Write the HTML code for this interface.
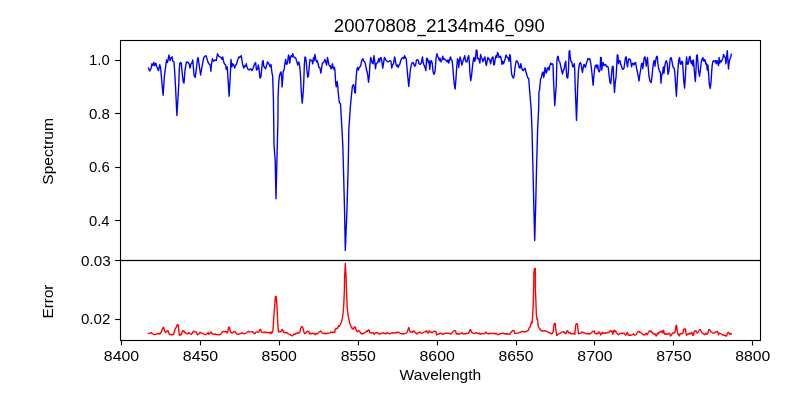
<!DOCTYPE html>
<html><head><meta charset="utf-8"><title>20070808_2134m46_090</title>
<style>
html,body{margin:0;padding:0;background:#fff;}
svg{display:block;will-change:transform;}
text{font-family:"Liberation Sans",sans-serif;fill:#000;}
</style></head><body>
<svg width="800" height="400" viewBox="0 0 800 400">
<rect x="0" y="0" width="800" height="400" fill="#fff"/>
<clipPath id="c1"><rect x="120.5" y="40.5" width="640" height="220"/></clipPath>
<clipPath id="c2"><rect x="120.5" y="260.5" width="640" height="80"/></clipPath>
<polyline clip-path="url(#c1)" fill="none" stroke="#0000ff" stroke-width="1.39" stroke-linejoin="round" stroke-linecap="square" points="148.50,68.12 149.75,71.00 151.00,68.75 151.88,63.75 152.88,65.62 153.75,62.50 154.75,65.62 155.75,63.12 156.62,66.25 157.50,68.12 158.50,70.62 159.75,64.75 160.62,68.12 161.88,82.50 163.12,95.25 164.38,76.25 165.62,66.88 166.50,60.00 167.50,62.50 169.00,55.00 170.00,60.62 171.25,57.50 172.25,56.88 172.75,61.25 174.00,61.88 174.88,75.00 175.50,86.25 176.88,115.38 178.75,85.00 179.25,70.00 179.75,63.75 180.62,62.50 181.25,63.12 181.88,70.00 183.12,81.25 184.00,83.12 185.00,70.00 186.50,61.88 188.12,62.50 189.38,64.38 190.00,68.12 191.00,63.75 191.88,63.12 192.75,60.00 193.50,68.75 194.12,75.62 195.25,77.50 196.25,70.00 197.50,58.75 198.12,57.50 199.00,63.75 200.62,75.00 201.88,67.50 203.75,57.50 205.00,56.25 206.00,55.62 206.88,58.12 208.12,62.50 209.38,64.38 210.25,65.00 210.88,71.25 211.50,63.75 212.50,58.75 213.75,61.25 215.00,60.00 216.25,60.62 217.50,53.75 218.75,56.25 220.00,56.88 221.25,57.50 221.88,59.38 222.75,56.88 223.50,61.25 224.38,63.75 225.62,65.00 226.25,69.38 227.25,66.88 227.88,76.25 229.12,96.25 230.25,76.25 231.00,59.38 231.88,66.88 232.75,63.75 234.00,65.62 234.75,68.12 235.62,65.00 236.50,64.38 237.50,60.62 238.75,56.88 239.50,57.50 240.25,56.88 241.25,55.62 241.88,60.00 242.75,65.00 243.75,68.12 244.75,65.62 245.62,66.25 246.25,63.75 247.12,67.50 248.12,69.38 249.00,70.00 250.00,69.38 250.88,68.75 251.88,70.62 252.88,68.75 253.75,66.25 254.75,63.75 255.62,62.50 256.50,70.00 257.50,69.38 258.25,65.00 259.00,68.75 260.00,78.12 260.88,76.88 261.62,70.00 262.50,61.25 263.12,60.62 263.75,66.25 264.75,67.50 265.62,68.75 266.50,65.62 267.50,61.88 268.50,63.12 269.38,65.00 270.25,66.88 271.00,64.38 271.62,70.00 272.12,73.75 272.56,75.00 273.00,86.25 273.44,100.00 273.70,120.00 274.00,145.00 275.19,160.00 276.00,198.75 276.94,160.00 277.94,120.00 278.12,95.00 278.75,82.50 279.38,76.25 280.25,73.12 281.00,71.88 281.62,77.50 282.12,86.88 282.62,80.00 283.12,71.88 284.00,70.00 284.75,65.00 285.62,59.38 286.25,63.75 286.88,64.38 287.50,62.50 288.50,55.00 289.25,57.50 289.75,63.12 290.38,57.50 291.25,55.62 292.00,56.88 292.75,53.75 293.38,56.25 294.38,57.50 295.25,57.50 296.00,58.75 296.88,61.88 297.75,65.00 298.75,61.88 299.38,64.38 300.00,68.75 300.62,77.50 301.25,91.25 302.25,103.12 303.25,91.25 303.75,82.50 304.38,63.75 305.00,56.88 305.62,57.50 306.25,61.88 306.88,70.00 307.75,77.25 308.50,75.62 309.12,67.50 310.00,59.38 310.88,60.00 311.88,60.62 312.75,63.75 313.50,57.50 314.12,60.62 315.00,54.38 315.62,58.75 316.50,61.88 317.25,60.62 318.12,63.75 319.00,67.50 320.00,68.12 320.88,73.12 321.50,68.75 322.25,63.75 323.12,62.50 324.00,61.88 325.00,59.38 325.88,62.50 326.62,65.00 327.50,57.50 328.12,60.62 329.00,65.00 329.75,66.25 330.38,65.62 331.00,68.75 331.62,68.12 332.50,63.75 333.25,68.12 334.00,69.38 334.50,67.25 335.00,71.25 335.62,82.50 336.25,86.88 337.12,81.50 337.88,86.88 338.00,90.00 338.00,90.00 339.00,100.00 339.50,103.00 340.50,103.50 342.00,130.00 342.80,145.00 343.50,170.00 344.60,212.00 345.30,250.50 346.90,212.00 348.10,170.00 348.60,145.00 348.80,130.00 350.50,105.00 352.00,90.00 352.50,85.62 353.38,84.75 354.00,85.62 354.75,92.50 355.38,93.12 355.62,86.25 356.25,76.25 356.88,69.38 357.75,67.50 358.50,70.00 359.12,67.50 360.00,66.88 360.75,65.62 361.50,61.25 362.25,59.38 362.88,58.75 363.75,61.25 364.75,61.88 365.62,65.00 366.25,68.75 367.25,72.50 367.88,76.25 368.50,82.25 369.25,76.25 370.00,63.75 370.75,57.50 371.50,60.00 372.25,63.12 373.12,63.75 374.00,55.62 374.75,61.25 375.50,68.75 376.25,63.75 377.00,63.12 377.75,62.50 378.75,58.75 379.50,61.88 380.25,58.12 381.00,57.50 381.88,61.25 382.75,68.12 383.50,63.75 384.38,57.50 385.25,58.75 386.25,60.62 387.25,61.25 388.12,61.88 389.00,61.25 390.00,60.62 391.00,61.25 391.75,68.12 392.50,65.00 393.50,63.75 394.62,56.88 395.25,60.00 396.00,64.38 396.88,66.25 397.50,65.00 398.25,67.50 399.00,65.00 399.75,64.38 400.62,61.25 401.50,58.75 402.25,58.12 403.12,57.50 403.75,58.75 404.62,55.62 405.38,57.50 406.25,58.75 406.88,66.25 407.75,76.25 408.75,86.50 409.62,77.50 410.38,70.00 411.25,65.00 412.00,63.12 412.88,62.50 413.75,63.75 414.62,66.25 415.62,65.00 416.50,60.00 417.50,59.75 418.38,60.62 419.00,63.75 420.00,64.38 421.00,63.75 421.62,61.25 422.50,56.88 423.12,62.50 424.00,65.00 425.00,67.50 425.88,70.62 426.62,58.12 427.50,58.75 428.25,62.50 429.00,60.62 429.75,69.38 430.62,61.25 431.50,60.62 432.25,63.75 433.12,71.88 434.12,74.38 435.00,71.25 436.00,58.75 436.88,53.75 437.88,56.88 438.50,57.50 439.38,60.62 440.00,58.12 440.88,61.88 441.88,60.00 442.75,56.25 443.50,59.38 444.38,58.75 445.25,60.00 446.25,60.62 447.12,61.88 447.88,60.00 448.75,63.12 449.62,59.38 450.62,56.88 451.25,60.00 452.12,60.62 452.75,66.25 453.50,76.25 454.38,85.00 455.12,89.00 455.88,80.00 456.62,68.75 457.50,58.75 458.25,60.00 458.75,67.50 459.38,61.25 460.12,56.88 461.00,60.62 461.88,65.00 462.75,61.88 463.75,58.75 464.75,55.62 465.38,60.00 466.00,61.88 467.00,61.88 467.88,57.50 468.75,55.62 469.38,62.50 470.00,73.75 470.75,80.62 471.50,76.25 472.25,68.75 473.12,61.25 474.00,57.50 474.75,61.25 475.50,58.75 476.25,50.00 477.00,50.62 477.50,58.75 478.38,58.12 479.12,60.00 479.88,63.12 480.62,54.38 481.38,57.50 482.12,58.75 482.88,61.88 483.50,60.00 484.25,58.12 484.88,56.88 485.62,62.50 486.38,65.62 487.12,61.25 487.88,57.50 488.75,58.75 489.75,60.00 490.62,63.75 491.38,60.00 492.25,57.50 493.00,56.88 493.75,65.00 494.50,64.38 495.25,58.75 496.00,55.62 496.75,57.50 497.50,52.50 498.25,53.75 499.00,57.50 499.75,56.88 500.50,56.25 501.25,58.75 501.88,64.38 502.75,61.25 503.50,63.75 504.38,61.25 505.12,58.75 506.00,55.00 506.75,56.88 507.50,57.50 508.25,58.12 509.00,61.25 509.75,54.38 510.38,56.25 511.00,66.25 511.62,73.75 512.50,76.88 513.50,78.12 514.25,75.00 515.00,67.50 515.88,62.50 516.62,60.62 517.50,61.88 518.38,63.75 519.12,67.50 520.00,68.12 520.88,63.75 521.62,67.50 522.50,70.00 523.25,70.62 524.00,69.38 525.00,68.12 525.75,71.25 526.50,73.75 527.25,76.25 528.00,78.12 528.75,78.75 529.20,85.00 530.20,97.50 531.20,110.00 532.00,130.00 533.00,170.00 533.80,205.00 534.70,240.40 535.70,205.00 536.50,170.00 537.60,130.00 538.60,110.00 539.00,91.30 539.50,90.50 540.00,85.00 540.62,78.75 541.25,78.12 541.88,75.00 542.50,72.50 543.12,71.88 543.75,77.50 544.38,73.75 545.00,67.50 545.62,69.38 546.25,73.12 546.88,71.25 547.50,68.12 548.25,67.50 549.00,70.00 549.75,66.25 550.62,63.12 551.50,64.38 552.25,63.75 553.00,64.38 553.38,76.25 553.75,85.00 554.75,105.62 556.25,85.00 556.88,61.25 557.50,56.88 558.12,56.25 558.75,60.62 559.75,61.88 560.62,65.62 561.50,70.00 562.50,74.00 563.38,70.00 564.12,69.38 565.00,63.75 565.75,61.25 566.25,70.00 566.88,77.50 567.75,78.12 568.50,70.00 569.12,51.25 569.75,50.62 570.25,57.50 571.00,61.25 571.88,62.50 572.75,66.88 573.50,66.25 574.25,63.75 574.75,70.00 575.12,85.00 576.50,120.38 577.75,85.00 578.50,70.00 579.38,64.38 580.25,62.50 581.00,63.75 581.75,68.75 582.50,72.50 583.25,67.50 584.00,64.38 584.75,66.25 585.38,67.50 586.25,63.75 587.12,61.25 587.88,58.50 588.75,59.38 589.75,58.75 590.62,62.50 591.50,68.75 592.25,76.25 593.12,85.25 593.75,77.50 594.50,70.00 595.25,65.62 596.25,65.00 597.00,68.12 597.75,65.00 598.50,70.62 599.25,71.88 600.00,70.00 600.62,57.50 601.25,57.50 601.75,70.00 602.50,63.75 603.25,62.50 604.00,65.62 604.75,65.00 605.62,64.38 606.50,66.88 607.50,66.25 608.25,67.50 609.00,75.00 610.00,82.50 610.75,83.75 611.50,75.00 612.25,66.88 613.12,66.25 613.75,80.00 614.50,92.50 615.25,82.50 616.00,77.50 616.50,70.00 617.25,55.00 617.88,55.00 618.50,63.75 619.25,60.62 620.00,60.62 620.75,64.38 621.50,66.25 622.25,68.75 623.12,69.38 624.00,68.12 624.75,62.50 625.50,57.50 626.25,56.88 626.88,63.12 627.50,66.88 628.25,61.25 629.00,58.75 630.00,59.38 630.75,61.25 631.50,66.88 632.25,63.75 633.12,63.12 634.00,65.00 634.75,63.12 635.62,62.50 636.50,68.12 637.25,71.25 638.12,75.62 639.00,81.00 639.75,75.00 640.62,70.00 641.50,63.75 642.25,63.12 642.75,68.75 643.50,63.75 644.25,57.50 645.00,56.88 645.75,61.25 646.25,66.25 646.88,61.25 647.50,57.50 648.12,66.25 649.00,76.25 650.00,81.25 651.25,82.50 652.12,75.00 652.88,67.50 653.75,61.25 654.50,60.62 655.00,66.25 655.75,60.00 656.50,56.88 657.25,56.25 657.88,63.75 658.75,68.75 659.62,71.88 660.38,71.88 661.00,83.12 661.62,75.62 662.50,73.75 663.38,66.88 664.00,73.12 664.75,66.25 665.62,61.88 666.50,60.62 667.25,63.75 668.00,74.38 668.75,71.88 669.50,65.62 670.25,58.75 671.00,57.50 671.75,60.00 672.50,64.38 673.25,67.50 674.12,68.12 674.75,71.88 675.50,82.50 676.38,96.25 677.12,82.50 677.88,70.00 678.75,60.00 679.62,57.50 680.25,63.75 681.00,64.38 681.75,61.25 682.50,61.88 683.12,70.00 683.75,81.25 684.62,88.12 685.38,76.25 686.00,63.75 686.62,56.88 687.25,63.75 688.00,64.38 688.75,61.25 689.38,56.88 690.00,56.25 690.62,61.25 691.50,63.75 692.25,60.62 692.75,65.62 693.50,60.00 694.12,67.50 694.75,76.25 695.38,81.50 696.00,70.00 696.62,55.62 697.25,55.00 697.88,61.25 698.50,70.00 699.50,76.25 700.38,70.00 701.25,62.50 702.12,58.75 702.88,57.50 703.50,60.62 704.12,61.25 704.75,59.38 705.38,61.25 706.00,64.38 706.62,63.75 707.25,70.00 707.88,65.00 708.50,72.50 709.25,83.75 710.25,88.38 711.00,82.50 711.62,72.50 712.25,65.00 712.88,61.25 713.75,60.62 714.75,61.88 715.62,60.62 716.25,63.75 717.00,60.62 717.75,62.50 718.50,65.62 719.12,57.50 719.75,63.12 720.50,60.62 721.25,61.88 722.00,60.00 722.75,58.75 723.50,54.38 724.38,56.25 725.25,57.50 725.88,63.75 726.50,58.75 727.25,50.62 727.75,57.50 728.50,69.00 729.12,62.50 730.00,58.75 730.62,57.50 731.25,54.38"/>
<polyline clip-path="url(#c2)" fill="none" stroke="#ff0000" stroke-width="1.39" stroke-linejoin="round" stroke-linecap="square" points="148.50,333.50 150.00,333.12 151.25,332.50 152.50,333.75 153.75,334.38 154.75,334.75 156.00,334.00 157.50,333.75 158.75,333.50 160.00,334.00 161.25,331.88 162.25,329.38 163.12,327.50 163.75,327.50 164.50,330.62 165.38,332.50 166.25,331.88 167.25,330.62 168.12,331.00 169.00,333.75 170.00,334.75 171.25,334.38 172.50,335.00 173.75,334.00 174.75,330.00 175.62,328.12 176.50,326.88 177.25,324.75 178.12,324.75 178.75,330.00 179.38,335.25 180.25,334.38 181.00,335.00 181.88,333.12 182.75,330.62 183.75,330.62 184.50,332.50 185.62,332.75 186.50,333.50 187.50,334.00 188.50,332.75 189.38,333.12 190.25,333.75 191.25,334.38 192.25,333.50 193.12,331.50 194.00,331.25 195.00,331.88 196.00,331.88 196.88,333.75 197.75,334.75 198.75,334.00 199.75,332.75 200.62,332.50 201.88,333.12 203.12,333.75 204.38,334.38 205.62,334.75 206.88,334.00 208.12,332.50 209.00,334.38 210.00,333.12 211.00,331.88 211.88,333.50 213.12,334.00 214.38,334.38 215.62,334.00 216.88,334.75 218.12,334.38 219.38,334.75 220.62,334.38 221.50,333.12 222.50,331.88 223.50,331.25 224.50,331.88 225.50,331.25 226.50,331.88 227.25,333.12 228.12,330.00 228.75,327.25 229.50,327.25 230.25,331.25 231.25,332.75 232.25,333.12 233.12,332.50 234.00,331.50 235.00,331.50 236.00,333.12 237.00,334.00 238.12,334.38 239.38,334.00 240.62,333.50 241.88,332.75 242.75,333.12 243.75,333.75 245.00,333.50 246.25,333.12 247.50,331.88 248.75,331.50 250.00,331.88 251.25,331.88 252.50,331.62 253.50,332.50 254.38,333.75 255.25,333.12 256.25,331.88 257.25,331.88 258.12,332.25 259.00,331.88 259.75,329.75 260.62,329.38 261.25,331.88 262.50,332.25 263.75,332.50 265.00,332.25 266.25,332.50 267.50,332.50 268.75,332.75 270.00,332.50 270.75,333.75 271.50,331.88 272.25,332.50 272.75,331.25 273.25,326.25 274.00,315.00 274.75,305.00 275.50,296.50 276.25,296.50 277.00,306.25 277.50,318.75 278.12,328.75 278.75,331.88 279.75,331.50 280.75,331.88 281.50,330.62 282.25,329.38 283.00,330.62 283.75,332.50 284.75,332.25 285.62,332.75 286.50,332.50 287.50,333.12 288.75,334.00 290.00,334.75 291.25,335.25 292.50,336.00 293.50,334.38 294.38,333.75 295.25,334.38 296.25,333.12 297.25,333.50 298.12,332.75 299.00,333.12 300.00,331.88 300.62,328.75 301.25,326.88 302.25,326.50 303.12,328.75 303.75,331.88 304.75,333.75 305.62,333.12 306.50,331.88 307.50,331.25 308.75,331.50 309.50,333.75 310.50,333.50 311.50,333.75 312.50,333.12 313.50,333.75 314.50,333.50 315.25,334.75 316.25,333.50 317.12,334.00 318.00,333.12 318.75,332.25 319.75,331.50 320.75,331.00 321.50,332.50 322.50,333.12 323.75,333.50 325.00,333.25 326.25,333.75 327.50,333.12 328.75,333.38 330.00,332.75 331.00,331.88 332.00,332.50 333.12,332.25 333.75,332.25 334.75,332.50 335.25,329.38 336.00,328.12 336.88,328.75 337.75,328.12 338.50,325.62 339.38,326.25 340.25,324.75 341.25,322.50 342.12,319.38 342.88,315.00 343.50,308.75 344.00,300.00 344.38,290.00 344.65,276.00 345.30,263.50 346.05,276.00 346.50,290.00 346.88,300.00 347.25,307.50 347.88,313.75 348.75,318.75 349.75,323.12 350.62,325.62 351.50,327.50 352.50,328.75 353.50,329.00 354.38,326.88 355.25,326.88 356.00,329.38 356.88,331.25 357.75,331.88 358.75,330.62 359.75,331.25 360.62,333.12 361.88,334.00 363.12,333.50 364.38,333.12 365.62,332.25 366.50,331.00 367.50,331.25 368.50,330.00 369.25,330.25 369.75,332.50 370.75,332.75 371.88,333.12 373.12,332.50 374.00,334.38 375.00,333.12 376.00,332.75 377.25,332.50 378.50,333.75 379.75,334.00 381.00,333.50 382.25,333.12 383.50,332.75 384.75,333.50 386.00,333.75 387.00,332.50 388.00,333.12 389.00,333.75 390.25,333.50 391.50,333.12 392.75,332.75 394.00,333.12 395.25,332.50 396.50,332.75 397.75,332.25 399.00,332.50 400.00,333.12 401.25,333.75 402.50,333.75 403.75,333.75 405.00,333.50 406.25,333.12 407.25,331.88 408.12,329.38 408.75,327.50 409.50,330.00 410.25,331.88 411.25,331.88 412.25,332.50 413.12,331.25 414.00,331.00 415.00,332.25 416.00,333.12 417.00,334.00 418.00,333.12 419.00,332.50 420.00,331.88 421.00,333.12 422.25,333.12 423.50,332.50 424.75,331.88 425.75,331.25 426.50,330.62 427.25,332.50 428.25,333.12 429.12,330.62 430.00,331.88 431.00,332.50 431.88,332.25 432.75,332.75 433.50,331.50 434.38,331.25 435.25,331.25 436.00,331.88 436.50,335.00 437.50,334.38 438.50,334.00 439.75,333.50 441.00,333.12 441.88,333.75 442.75,334.38 443.75,334.00 444.75,333.50 446.00,333.12 447.25,333.38 448.50,333.12 449.75,333.75 450.75,334.00 451.75,333.12 452.75,331.88 453.75,330.62 454.75,330.62 455.62,331.00 456.25,333.75 457.25,334.00 458.25,333.75 459.25,334.00 460.25,333.75 461.25,333.12 462.00,332.50 462.75,333.75 463.75,334.00 465.00,333.75 466.25,333.50 467.50,333.50 468.50,333.12 469.25,331.88 470.00,329.75 470.75,329.75 471.50,331.88 472.25,332.75 473.25,333.12 474.25,333.75 475.25,333.12 476.25,332.75 477.25,333.12 478.25,333.50 479.25,333.12 480.25,334.38 481.25,333.75 482.25,333.50 483.25,334.00 484.25,333.50 485.25,333.12 486.00,331.88 486.75,333.12 487.75,333.75 488.75,333.50 489.75,333.75 490.75,333.12 491.75,333.50 492.75,333.75 493.75,333.12 494.75,333.75 495.75,333.50 496.75,333.75 497.75,334.75 498.75,334.38 499.75,334.00 500.75,333.75 501.75,333.25 502.75,333.12 503.75,333.50 504.75,333.75 505.75,334.00 506.75,333.75 507.75,334.00 508.75,334.38 509.75,334.38 510.50,333.12 511.25,331.88 512.25,331.00 513.25,330.25 514.00,330.62 514.50,333.12 515.50,333.50 516.50,333.12 517.50,333.12 518.50,333.12 519.50,332.50 520.50,332.25 521.50,331.50 522.50,331.50 523.50,331.88 524.50,331.62 525.50,331.88 526.50,331.25 527.50,331.00 528.50,330.00 529.38,327.50 530.25,326.88 531.00,323.75 531.50,321.88 532.12,323.12 532.69,315.00 533.31,302.50 533.69,290.00 533.85,272.00 534.20,272.00 534.40,268.70 535.30,268.50 535.44,290.00 535.94,302.50 536.38,315.00 537.00,319.38 537.50,319.00 538.12,325.00 538.75,327.50 539.75,328.75 540.75,330.25 541.75,331.00 542.75,330.62 543.75,331.00 544.75,330.62 545.75,331.00 546.75,331.50 547.75,331.88 548.75,332.50 549.75,332.75 550.75,333.12 551.50,334.00 552.25,333.50 553.35,331.38 553.62,327.50 554.25,323.50 555.20,323.50 555.90,329.50 556.65,335.50 557.50,334.75 558.50,334.00 559.50,333.50 560.50,333.12 561.50,332.50 562.50,331.88 563.50,331.50 564.38,332.50 565.25,333.75 566.00,333.12 566.75,331.25 567.50,330.62 568.25,331.88 569.00,333.12 570.00,332.50 571.00,333.75 572.00,334.00 573.00,333.50 574.00,333.75 574.75,334.38 575.25,330.00 575.75,325.00 576.30,323.75 577.40,323.88 577.94,328.75 578.50,333.75 579.25,333.75 580.25,333.12 581.25,333.12 582.00,331.88 583.00,332.50 584.00,332.75 585.00,333.12 586.00,333.50 587.00,333.75 588.00,333.75 589.00,334.00 590.00,333.75 591.00,333.12 591.88,332.25 592.75,331.25 593.50,331.50 594.25,331.00 594.75,333.12 595.75,333.75 596.75,333.50 597.75,333.75 598.50,331.88 599.25,332.50 600.00,333.12 600.62,335.00 601.25,333.12 601.88,333.75 602.50,332.25 603.25,333.50 604.25,333.12 605.25,332.75 606.25,333.12 607.25,332.50 608.25,332.75 609.25,331.88 610.00,331.00 610.75,330.62 611.50,331.88 612.25,331.25 612.88,334.38 613.50,331.25 614.25,330.25 615.00,331.88 615.75,331.00 616.50,332.50 617.25,333.75 618.25,334.75 619.25,334.00 619.75,333.75 620.75,333.50 621.75,333.12 622.75,333.50 623.75,333.12 624.75,333.75 625.50,335.25 626.25,334.75 626.88,333.12 627.50,332.50 628.25,335.00 629.25,335.25 630.25,335.00 631.25,335.25 632.25,334.75 633.25,334.00 634.25,334.38 635.00,335.25 636.00,334.75 637.00,333.12 638.00,331.88 638.75,331.25 639.75,332.25 640.75,332.50 641.75,333.12 642.75,334.38 643.75,334.75 644.75,335.00 645.50,333.75 646.25,333.12 647.00,334.75 647.75,333.75 648.50,332.50 649.25,331.00 650.00,330.62 650.75,331.88 651.50,331.25 652.25,332.50 653.00,333.75 653.75,333.12 654.50,334.38 655.25,334.00 656.00,336.00 656.75,335.00 657.50,333.12 658.25,333.75 659.00,332.25 659.75,332.50 660.50,331.25 661.25,331.88 662.00,331.00 662.75,333.12 663.50,330.25 664.00,332.50 664.75,334.38 665.75,333.75 666.75,334.00 667.75,334.38 668.75,333.12 669.75,333.75 670.50,336.00 671.25,335.00 672.00,334.00 672.75,333.12 673.50,332.50 674.25,333.12 675.00,331.88 675.50,330.00 676.00,325.62 676.62,325.25 677.12,330.00 677.75,333.75 678.50,334.75 679.25,336.00 680.00,333.75 681.00,333.50 682.00,333.75 683.00,333.12 683.50,329.38 684.25,329.00 685.00,329.75 685.50,329.00 686.00,333.12 686.50,335.25 687.25,334.38 688.25,333.75 689.25,334.00 690.00,333.12 690.75,333.75 691.50,332.50 692.25,333.12 692.75,335.25 693.50,335.00 694.25,331.25 695.00,331.00 695.75,330.62 696.50,331.88 697.25,333.12 698.00,332.50 698.75,331.00 699.50,329.75 700.25,329.38 701.00,331.00 701.75,332.50 702.50,333.12 703.50,333.75 704.50,334.75 705.25,334.00 706.00,333.12 706.75,334.38 707.50,333.75 708.25,331.88 708.75,329.38 709.50,329.75 710.25,330.62 711.00,331.88 712.00,332.50 713.00,333.12 714.00,333.12 715.00,332.75 716.00,331.88 717.00,331.25 717.75,331.88 718.50,334.75 719.25,333.12 720.25,333.50 721.25,334.00 722.25,334.75 723.25,335.00 724.25,335.62 725.25,335.00 726.00,336.25 726.75,335.62 727.50,333.12 728.25,332.25 729.00,333.12 729.75,334.38 730.50,333.50 731.25,333.75"/>
<g stroke="#000" stroke-width="1.11">
<line x1="121.5" y1="340.5" x2="121.5" y2="345.4"/>
<line x1="200.5" y1="340.5" x2="200.5" y2="345.4"/>
<line x1="279.5" y1="340.5" x2="279.5" y2="345.4"/>
<line x1="358.5" y1="340.5" x2="358.5" y2="345.4"/>
<line x1="437.5" y1="340.5" x2="437.5" y2="345.4"/>
<line x1="516.5" y1="340.5" x2="516.5" y2="345.4"/>
<line x1="594.5" y1="340.5" x2="594.5" y2="345.4"/>
<line x1="673.5" y1="340.5" x2="673.5" y2="345.4"/>
<line x1="752.5" y1="340.5" x2="752.5" y2="345.4"/>
<line x1="115.1" y1="60.5" x2="120.5" y2="60.5"/>
<line x1="115.1" y1="113.5" x2="120.5" y2="113.5"/>
<line x1="115.1" y1="167.5" x2="120.5" y2="167.5"/>
<line x1="115.1" y1="220.5" x2="120.5" y2="220.5"/>
<line x1="115.1" y1="260.5" x2="120.5" y2="260.5"/>
<line x1="115.1" y1="319.5" x2="120.5" y2="319.5"/>
</g>
<g fill="none" stroke="#000" stroke-width="1.11" stroke-linejoin="miter">
<rect x="120.5" y="40.5" width="640" height="220"/>
<rect x="120.5" y="260.5" width="640" height="80"/>
</g>
<text font-size="17.60" x="333.88" y="32.00" textLength="82.51" lengthAdjust="spacingAndGlyphs">20070808</text>
<text font-size="17.60" x="426.08" y="32.00" textLength="78.93" lengthAdjust="spacingAndGlyphs">2134m46</text>
<text font-size="17.60" x="514.07" y="32.00" textLength="30.80" lengthAdjust="spacingAndGlyphs">090</text>
<text font-size="13.90" x="399.64" y="380.00" textLength="81.58" lengthAdjust="spacingAndGlyphs">Wavelength</text>
<text font-size="13.90" transform="translate(53.00,184.76) rotate(-90)" textLength="66.83" lengthAdjust="spacingAndGlyphs">Spectrum</text>
<text font-size="13.90" transform="translate(53.00,318.40) rotate(-90)" textLength="33.84" lengthAdjust="spacingAndGlyphs">Error</text>
<text font-size="13.90" x="103.85" y="361.00" textLength="35.28" lengthAdjust="spacingAndGlyphs">8400</text>
<text font-size="13.90" x="182.86" y="361.00" textLength="35.29" lengthAdjust="spacingAndGlyphs">8450</text>
<text font-size="13.90" x="261.64" y="361.00" textLength="35.24" lengthAdjust="spacingAndGlyphs">8500</text>
<text font-size="13.90" x="340.66" y="361.00" textLength="35.25" lengthAdjust="spacingAndGlyphs">8550</text>
<text font-size="13.90" x="419.49" y="361.00" textLength="35.34" lengthAdjust="spacingAndGlyphs">8600</text>
<text font-size="13.90" x="498.56" y="361.00" textLength="35.02" lengthAdjust="spacingAndGlyphs">8650</text>
<text font-size="13.90" x="577.35" y="361.00" textLength="35.34" lengthAdjust="spacingAndGlyphs">8700</text>
<text font-size="13.90" x="656.17" y="361.00" textLength="35.31" lengthAdjust="spacingAndGlyphs">8750</text>
<text font-size="13.90" x="735.25" y="361.00" textLength="35.03" lengthAdjust="spacingAndGlyphs">8800</text>
<text font-size="13.90" x="89.09" y="65.00" textLength="20.67" lengthAdjust="spacingAndGlyphs">1.0</text>
<text font-size="13.90" x="88.93" y="119.00" textLength="20.92" lengthAdjust="spacingAndGlyphs">0.8</text>
<text font-size="13.90" x="88.96" y="172.00" textLength="20.76" lengthAdjust="spacingAndGlyphs">0.6</text>
<text font-size="13.90" x="88.99" y="226.00" textLength="20.53" lengthAdjust="spacingAndGlyphs">0.4</text>
<text font-size="13.90" x="81.06" y="266.00" textLength="29.67" lengthAdjust="spacingAndGlyphs">0.03</text>
<text font-size="13.90" x="80.91" y="324.00" textLength="29.38" lengthAdjust="spacingAndGlyphs">0.02</text>
<rect x="417.2" y="34.9" width="8.7" height="1.3" fill="#000"/>
<rect x="505.3" y="34.9" width="8.6" height="1.3" fill="#000"/>
</svg>
</body></html>
